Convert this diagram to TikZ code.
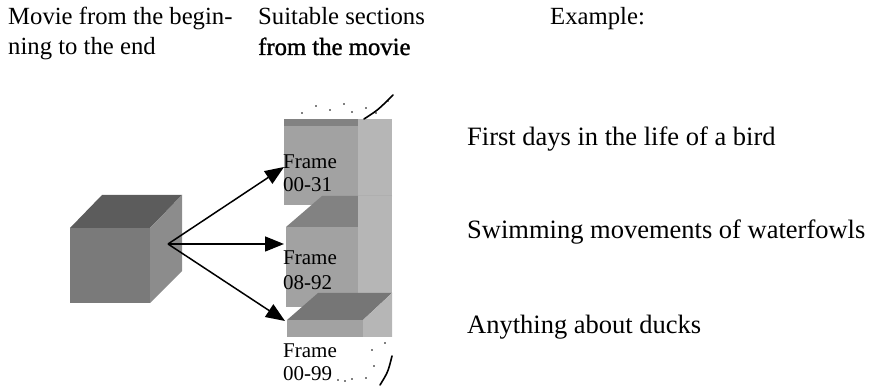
\documentclass[tikz,border=0pt]{standalone}
\usepackage{fontspec}
\setmainfont{Liberation Serif}
\newfontfamily\heavyserif[FakeBold=1.2]{Liberation Serif}
\usetikzlibrary{arrows.meta}

\definecolor{cubeTop}{HTML}{5C5C5C}
\definecolor{cubeFront}{HTML}{7A7A7A}
\definecolor{cubeSide}{HTML}{8C8C8C}
\definecolor{secTop}{HTML}{828282}
\definecolor{secFront}{HTML}{A2A2A2}
\definecolor{secSide}{HTML}{B6B6B6}
\definecolor{slabTop}{HTML}{767676}

\tikzset{
  hdr/.style={anchor=base west, inner sep=0pt, font=\fontsize{24.7}{29}\selectfont},
  topic/.style={anchor=base west, inner sep=0pt, font=\fontsize{26.5}{31}\selectfont},
  framelbl/.style={anchor=base west, inner sep=0pt, font=\fontsize{21}{25}\selectfont},
  link/.style={draw=black, line width=1.5pt,
    -{Triangle[length=19pt,width=15pt]}},
  speck/.style={fill=black},
}

\begin{document}
\begin{tikzpicture}[x=1pt,y=-1pt]
\useasboundingbox (0,0) rectangle (873,387);

% column headings
\node[hdr] (h1a) at (8,25) {Movie from the begin-};
\node[hdr] (h1b) at (8,55) {ning to the end};
\node[hdr] (h2a) at (258,25) {Suitable sections};
\node[hdr] (h2b) at (258,55) {\heavyserif from the movie};
\node[hdr] (h3)  at (550,25) {Example:};

% whole movie: one solid cube
\fill[cubeFront] (70,228) rectangle (150,303);
\fill[cubeTop]   (70,228) -- (102,195) -- (182,195) -- (150,228) -- cycle;
\fill[cubeSide]  (150,228) -- (182,195) -- (182,271) -- (150,303) -- cycle;

% sections: stacked cubes cut out of the movie
% upper section
\fill[secFront] (284,119) rectangle (358,205);
\fill[secTop]   (284,119) rectangle (358,126);
\fill[secSide]  (358,119) rectangle (392,196);
% middle section
\fill[secTop]   (286,227) -- (322,196) -- (392,196) -- (358,227) -- cycle;
\fill[secFront] (286,227) rectangle (358,307);
\fill[secSide]  (358,196) rectangle (392,293);
\fill[secSide]  (358,293) rectangle (372,307);
% lower section, cut off at the bottom
\fill[slabTop]  (287,320) -- (318,293) -- (392,293) -- (363,320) -- cycle;
\fill[secFront] (287,320) rectangle (372,337);
\fill[secSide]  (363,320) -- (392,293) -- (392,337) -- (363,337) -- cycle;

% section labels
\node[framelbl] (f1a) at (283,169) {Frame};
\node[framelbl] (f1b) at (283,192) {00-31};
\node[framelbl] (f2a) at (283,265) {Frame};
\node[framelbl] (f2b) at (283,290) {08-92};
\node[framelbl] (f3a) at (283,357) {Frame};
\node[framelbl] (f3b) at (283,381) {00-99};

% arrows from the movie to its sections
\coordinate (src) at (168,244);
\coordinate (t1) at (284,167);
\coordinate (t2) at (284,244);
\coordinate (t3) at (285,321);
\draw[link] (src) -- (t1);
\draw[link] (src) -- (t2);
\draw[link] (src) -- (t3);

% example topics
\node[topic] (e1) at (467,146) {First days in the life of a bird};
\node[topic] (e2) at (467,239) {Swimming movements of waterfowls};
\node[topic] (e3) at (467,334) {Anything about ducks};

% print specks
\foreach \p in {(302,113),(316,106),(330,110),(344,104),(352,112),(366,108),(376,113),(388,101)}
  \fill[speck] \p circle (0.9pt);
\draw[line width=1.6pt, line cap=round] (364,119) .. controls (378,110) .. (393,95);
\draw[line width=1.6pt, line cap=round] (380,385) .. controls (388,372) .. (392,356);
\foreach \p in {(372,350),(374,366),(366,378),(385,343),(338,380),(345,381),(352,379)}
  \fill[speck] \p circle (0.8pt);
\end{tikzpicture}
\end{document}
